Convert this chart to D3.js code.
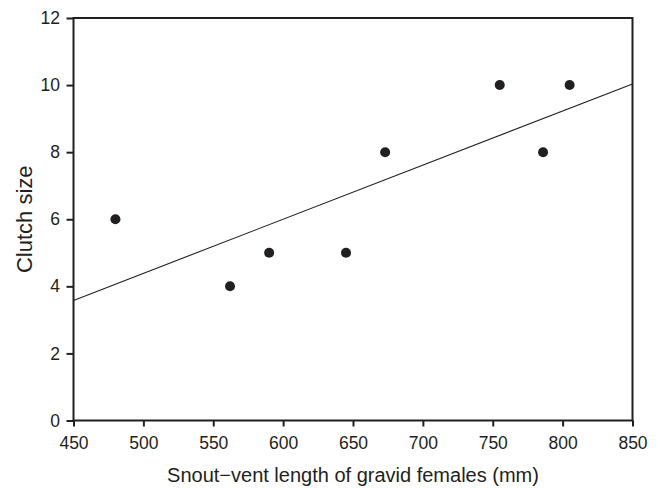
<!DOCTYPE html>
<html lang="en">
  <head>
    <meta charset="UTF-8" />
    <title>Clutch size vs SVL</title>
    <style>
      body { margin: 0; background: #fff; }
      svg text { font-family: "Liberation Sans", Arial, sans-serif; fill: #231f20; }
    </style>
  </head>
  <body>
    <div id="chart"></div>
    <script src="https://cdn.jsdelivr.net/npm/d3@7"></script>
    <script>
      // data
      var svl = [480, 562, 590, 645, 673, 755, 786, 805];
      var clutch = [6, 4, 5, 5, 8, 10, 8, 10];
      var xTicks = [450, 500, 550, 600, 650, 700, 750, 800, 850];
      var yTicks = [0, 2, 4, 6, 8, 10, 12];

      var width = 662, height = 488;
      var margin = { top: 18, right: 29.5, bottom: 67.5, left: 73.5 };
      var ink = "#231f20";

      var svg = d3.select("#chart").append("svg")
        .attr("width", width)
        .attr("height", height);

      var x = d3.scaleLinear().domain([450, 850]).range([margin.left, width - margin.right]);
      var y = d3.scaleLinear().domain([0, 12]).range([height - margin.bottom, margin.top]);

      // least squares fit line
      var mx = d3.mean(svl), my = d3.mean(clutch);
      var sxy = d3.sum(svl, function(d, i) { return (d - mx) * (clutch[i] - my); });
      var sxx = d3.sum(svl, function(d) { return (d - mx) * (d - mx); });
      var slope = sxy / sxx, icpt = my - slope * mx;

      svg.append("line")
        .attr("x1", x(450)).attr("y1", y(icpt + slope * 450))
        .attr("x2", x(850)).attr("y2", y(icpt + slope * 850))
        .attr("stroke", ink).attr("stroke-width", 1.1);

      svg.selectAll(".dot")
        .data(svl)
        .enter().append("circle")
        .attr("class", "dot")
        .attr("cx", function(d) { return x(d); })
        .attr("cy", function(d, i) { return y(clutch[i]); })
        .attr("r", 5)
        .attr("fill", ink);

      // axes
      var xAxis = svg.append("g")
        .attr("transform", "translate(0," + y(0) + ")")
        .call(d3.axisBottom(x).tickValues(xTicks).tickSize(6).tickPadding(10).tickSizeOuter(0));
      var yAxis = svg.append("g")
        .attr("transform", "translate(" + x(450) + ",0)")
        .call(d3.axisLeft(y).tickValues(yTicks).tickSize(7).tickPadding(6.5).tickSizeOuter(0));

      [xAxis, yAxis].forEach(function(g) {
        g.select(".domain").remove();
        g.selectAll("line").attr("stroke", ink).attr("stroke-width", 2);
        g.selectAll("text").style("font-size", "17.5px").attr("fill", ink);
      });

      // frame round the plot area
      svg.append("rect")
        .attr("x", x(450)).attr("y", y(12))
        .attr("width", x(850) - x(450)).attr("height", y(0) - y(12))
        .attr("fill", "none").attr("stroke", ink).attr("stroke-width", 2);

      // axis titles
      svg.append("text")
        .attr("x", (x(450) + x(850)) / 2)
        .attr("y", 482)
        .attr("text-anchor", "middle")
        .style("font-size", "20px")
        .text("Snout\u2212vent length of gravid females (mm)");

      svg.append("text")
        .attr("transform", "translate(32," + (y(12) + y(0)) / 2 + ") rotate(-90)")
        .attr("text-anchor", "middle")
        .style("font-size", "22px")
        .text("Clutch size");
    </script>
  </body>
</html>
